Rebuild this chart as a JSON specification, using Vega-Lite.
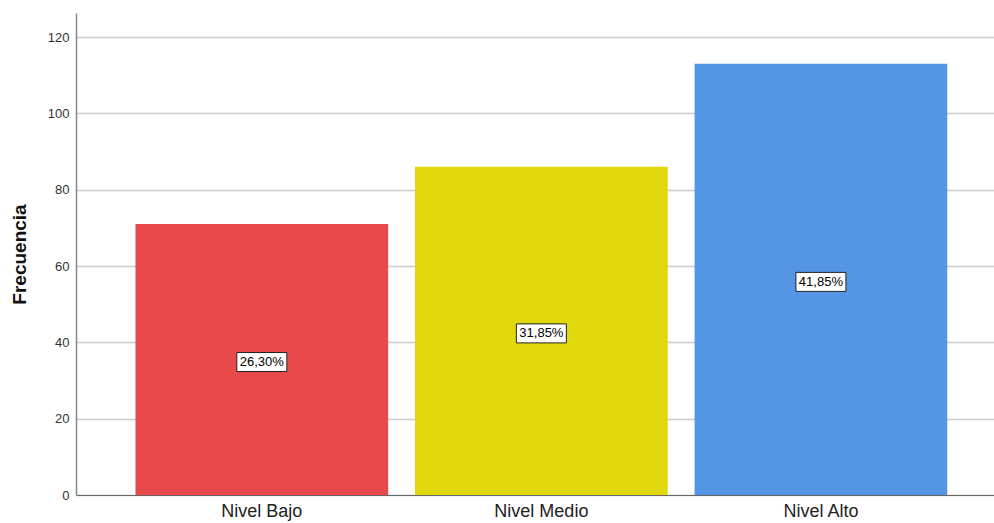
{
  "$schema": "https://vega.github.io/schema/vega-lite/v6.json",
  "width": 918,
  "height": 482,
  "padding": {"left": 76, "top": 13, "right": 0, "bottom": 28},
  "autosize": {"type": "none"},
  "background": "white",
  "config": {
    "view": {"stroke": null},
    "font": "Liberation Sans"
  },
  "data": {
    "values": [
      {"nivel": "Nivel Bajo", "frecuencia": 71, "porcentaje": "26,30%"},
      {"nivel": "Nivel Medio", "frecuencia": 86, "porcentaje": "31,85%"},
      {"nivel": "Nivel Alto", "frecuencia": 113, "porcentaje": "41,85%"}
    ]
  },
  "encoding": {
    "x": {
      "field": "nivel",
      "type": "nominal",
      "sort": null,
      "scale": {"paddingInner": 0.096, "paddingOuter": 0.19, "align": 0.56},
      "axis": {
        "title": null,
        "labelAngle": 0,
        "labelFontSize": 18,
        "labelColor": "#222222",
        "labelPadding": 7,
        "ticks": false,
        "domainColor": "#666666",
        "domainWidth": 1,
        "grid": false
      }
    }
  },
  "layer": [
    {
      "mark": {"type": "bar"},
      "encoding": {
        "y": {
          "field": "frecuencia",
          "type": "quantitative",
          "scale": {"domain": [0, 126.3], "nice": false},
          "axis": {
            "title": "Frecuencia",
            "titleFontSize": 19,
            "titleFontWeight": "bold",
            "titleColor": "#111111",
            "titlePadding": 18,
            "values": [0, 20, 40, 60, 80, 100, 120],
            "labelFontSize": 13,
            "labelColor": "#333333",
            "labelPadding": 7,
            "ticks": false,
            "domainColor": "#888888",
            "domainWidth": 1.5,
            "gridColor": "#cccccc",
            "gridWidth": 1.5
          }
        },
        "color": {
          "field": "nivel",
          "type": "nominal",
          "sort": null,
          "scale": {"domain": ["Nivel Bajo", "Nivel Medio", "Nivel Alto"], "range": ["#E84A4C", "#E0D80C", "#5596E4"]},
          "legend": null
        }
      }
    },
    {
      "encoding": {
        "y": {
          "field": "frecuencia",
          "type": "quantitative",
          "scale": {"domain": [0, 252.6], "nice": false},
          "axis": null
        }
      },
      "layer": [
        {
          "mark": {
            "type": "point",
            "shape": "M-1,-0.38H1V0.38H-1Z",
            "size": 2500,
            "filled": true,
            "fill": "white",
            "stroke": "#222222",
            "strokeWidth": 1,
            "opacity": 1,
            "yOffset": 2.5
          }
        },
        {
          "mark": {"type": "text", "fontSize": 13, "color": "black", "baseline": "middle", "align": "center", "yOffset": 2.5},
          "encoding": {
            "text": {"field": "porcentaje"}
          }
        }
      ]
    }
  ],
  "resolve": {"scale": {"y": "independent"}}
}
